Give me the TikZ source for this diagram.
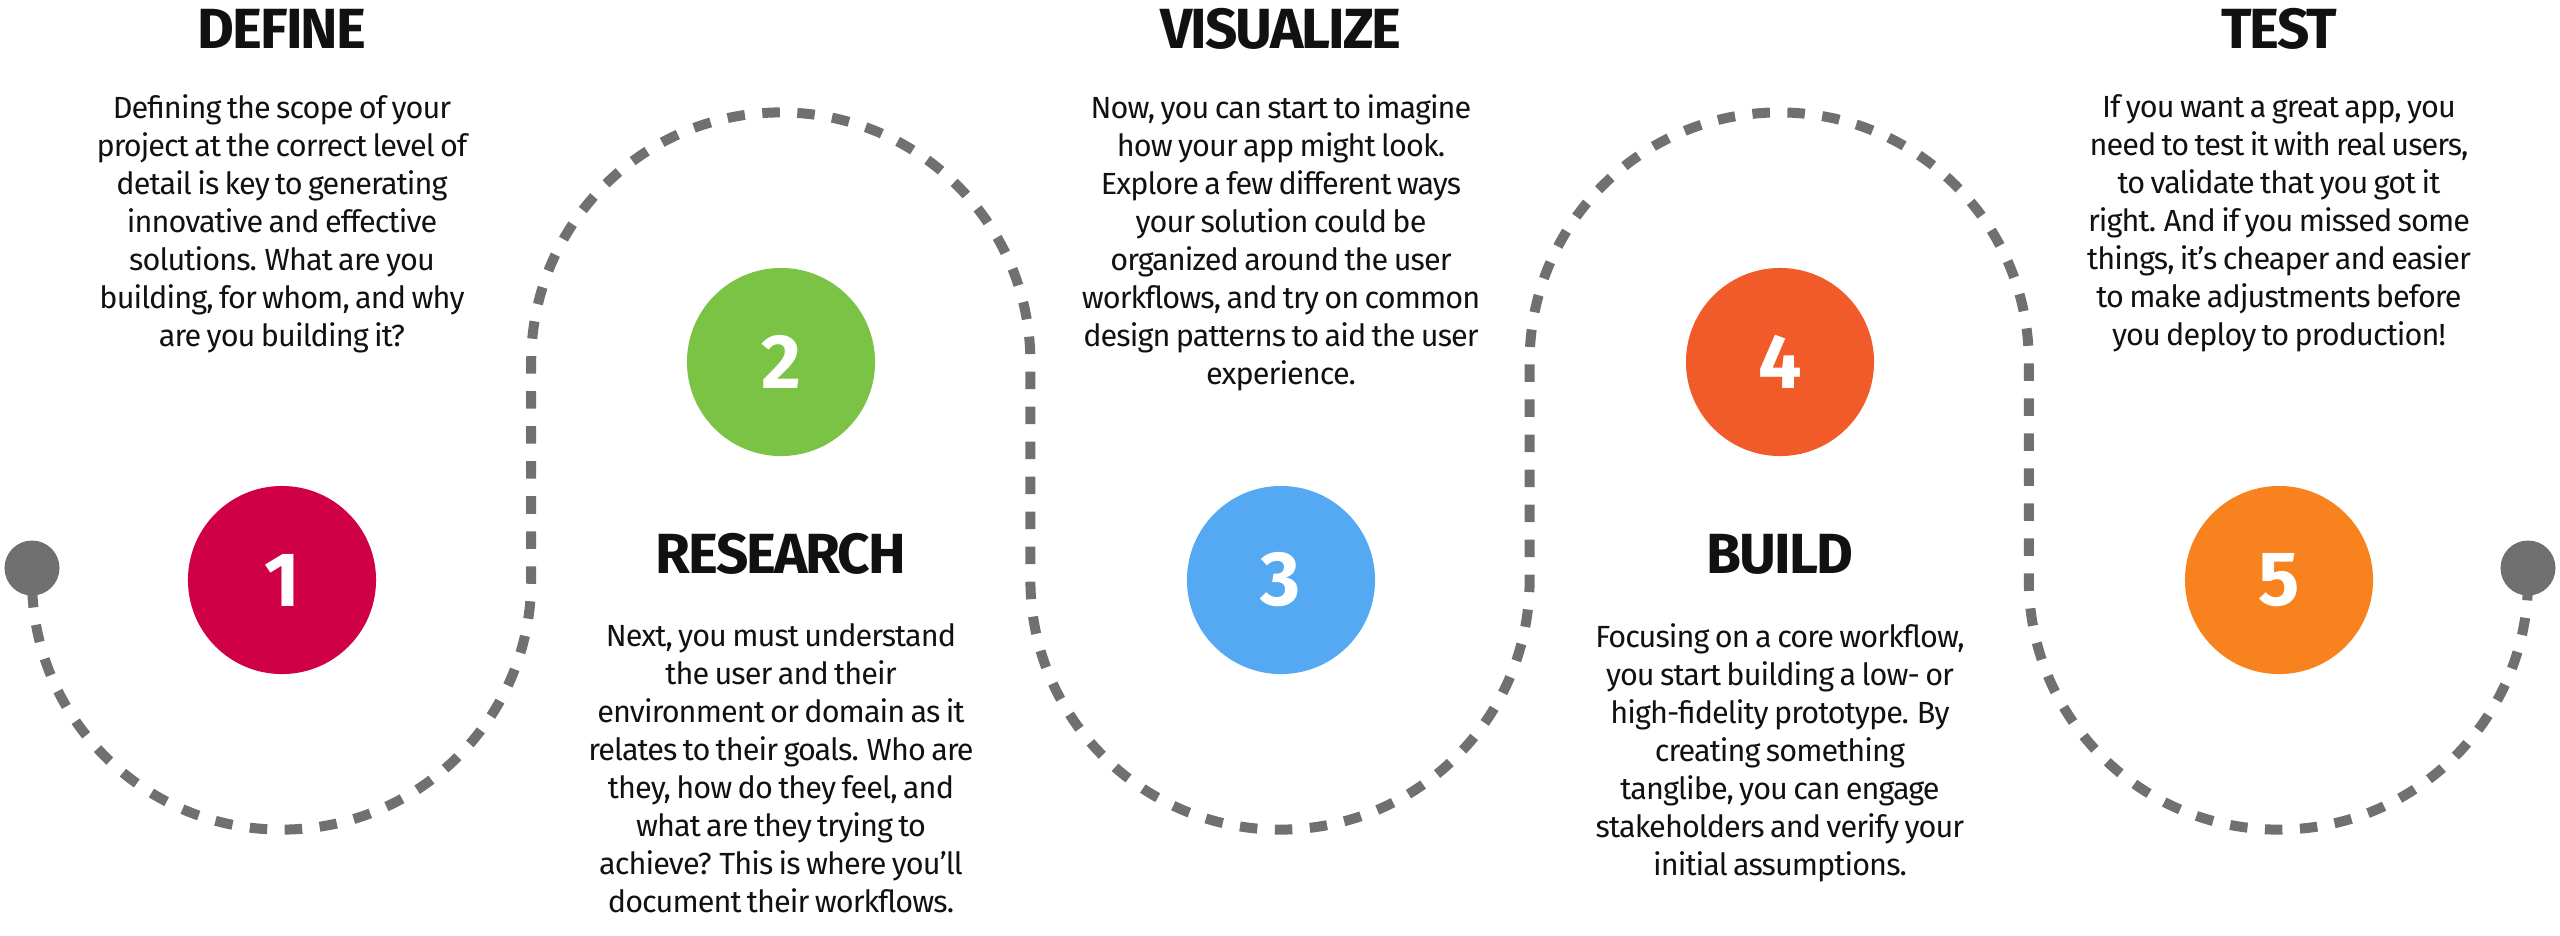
\documentclass[tikz,border=0pt]{standalone}
\usepackage{fontspec}
\setmainfont{Fira Sans}
\newfontfamily\bodyfont[LetterSpace=-3, WordSpace=0.75]{Fira Sans}
\newfontfamily\headfont[LetterSpace=-3.5]{Fira Sans}
\usepackage{tikz}
\usetikzlibrary{positioning, arrows.meta, calc}

\definecolor{StepOne}{RGB}{208,0,70}
\definecolor{StepTwo}{RGB}{122,195,69}
\definecolor{StepThree}{RGB}{85,168,242}
\definecolor{StepFour}{RGB}{241,91,41}
\definecolor{StepFive}{RGB}{248,130,30}
\definecolor{PathGray}{RGB}{112,112,112}
\definecolor{InkBlack}{RGB}{17,17,17}

\tikzset{
  stepdisc/.style={circle, minimum size=1.88cm, inner sep=0pt, text=white,
    font=\fontsize{21.9}{26}\selectfont\bfseries},
  enddot/.style={circle, fill=PathGray, minimum size=0.55cm, inner sep=0pt},
  steptitle/.style={anchor=base, inner sep=0pt, text=InkBlack,
    font=\headfont\fontsize{16.1}{19}\selectfont\bfseries},
  steptext/.style={anchor=north, inner sep=0pt, align=center, text=InkBlack,
    font=\bodyfont\fontsize{8.7}{10.8}\selectfont},
  snake/.style={PathGray, line width=0.1cm, dash pattern=on 0.175cm off 0.175cm, dash phase=0.13cm}
}

\begin{document}
\begin{tikzpicture}[x=0.01cm,y=0.01cm]
  \useasboundingbox (0,0) rectangle (2560,-935);

  \node[enddot] (dotL) at (32,-568) {};
  \node[enddot] (dotR) at (2528,-568) {};

  \draw[snake] (dotL.center) -- (32,-580)
    arc[start angle=180, end angle=360, radius=249.6] -- ++(0,218)
    arc[start angle=180, end angle=0, radius=249.6] -- ++(0,-218)
    arc[start angle=180, end angle=360, radius=249.6] -- ++(0,218)
    arc[start angle=180, end angle=0, radius=249.6] -- ++(0,-218)
    arc[start angle=180, end angle=360, radius=249.6] -- (dotR.center);

  \foreach \i/\x/\y/\c in {1/282/-580/StepOne, 2/781/-362/StepTwo, 3/1281/-580/StepThree,
                           4/1780/-362/StepFour, 5/2279/-580/StepFive}
    \node[stepdisc, fill=\c] (disc\i) at (\x,\y) {\i};

  \node[steptitle] (tDefine) at (282,-48) {DEFINE};
  \node[steptext] (bDefine) at (282,-94) {Defining the scope of your\\project at the correct level of\\detail is key to generating\\innovative and effective\\solutions. What are you\\building, for whom, and why\\are you building it?};

  \node[steptitle] (tResearch) at (781,-573) {RESEARCH};
  \node[steptext] (bResearch) at (781,-623) {Next, you must understand\\the user and their\\environment or domain as it\\relates to their goals. Who are\\they, how do they feel, and\\what are they trying to\\achieve? This is where you’ll\\document their workflows.};

  \node[steptitle] (tVisualize) at (1281,-48) {VISUALIZE};
  \node[steptext] (bVisualize) at (1281,-94) {Now, you can start to imagine\\how your app might look.\\Explore a few different ways\\your solution could be\\organized around the user\\workflows, and try on common\\design patterns to aid the user\\experience.};

  \node[steptitle] (tBuild) at (1780,-573) {BUILD};
  \node[steptext] (bBuild) at (1780,-623) {Focusing on a core workflow,\\you start building a low- or\\high-fidelity prototype. By\\creating something\\tanglibe, you can engage\\stakeholders and verify your\\initial assumptions.};

  \node[steptitle] (tTest) at (2279,-48) {TEST};
  \node[steptext] (bTest) at (2279,-94) {If you want a great app, you\\need to test it with real users,\\to validate that you got it\\right. And if you missed some\\things, it’s cheaper and easier\\to make adjustments before\\you deploy to production!};
\end{tikzpicture}
\end{document}
